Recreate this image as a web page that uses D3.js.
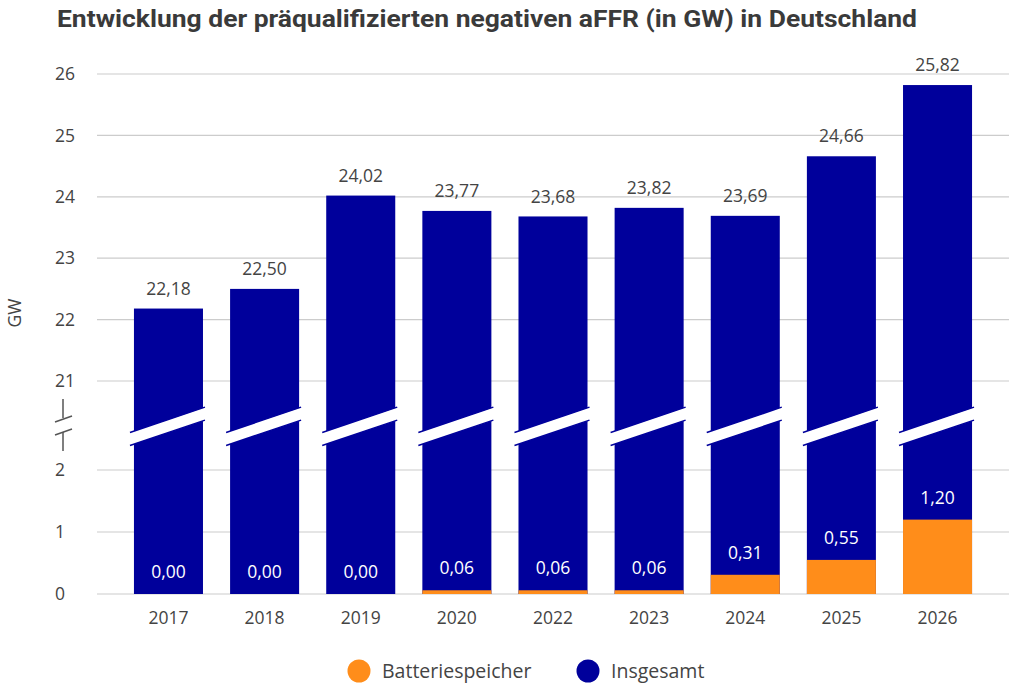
<!DOCTYPE html>
<html><head><meta charset="utf-8">
<script src="https://cdn.jsdelivr.net/npm/d3@7"></script>
<style>
html,body{margin:0;padding:0;background:#fff;}
svg{display:block;font-family:"Open Sans",sans-serif;}
</style></head>
<body>
<svg id="chart" width="1024" height="689"></svg>
<script>
const years = ["2017","2018","2019","2020","2022","2023","2024","2025","2026"];
const total = [22.18,22.50,24.02,23.77,23.68,23.82,23.69,24.66,25.82];
const battery = [0.00,0.00,0.00,0.06,0.06,0.06,0.31,0.55,1.20];
const upperTicks = [21,22,23,24,25,26];
const lowerTicks = [0,1,2];
const seriesNames = ["Batteriespeicher","Insgesamt"];
const title = "Entwicklung der präqualifizierten negativen aFFR (in GW) in Deutschland";

const NAVY = "#00009b", ORANGE = "#ff8d1a", TEXT = "#444", GRID = "#cccccc";
const svg = d3.select("#chart");
const loc = d3.formatLocale({decimal:",", thousands:".", grouping:[3], currency:["","€"]});
const fmt = loc.format(".2f");

const x = d3.scaleBand().domain(years).range([120.4, 985.6]).paddingInner(0.282).paddingOuter(0.141);
const yU = d3.scaleLinear().domain([21,26]).range([381,74]);
const yL = d3.scaleLinear().domain([0,2]).range([594,470]);
const gridX0 = 97, gridX1 = 1009;

// title
svg.append("text").attr("x",57).attr("y",27).attr("fill","#3a3a3a")
  .attr("font-family","Roboto, sans-serif").attr("font-weight",700).attr("font-size",24)
  .attr("textLength",860).attr("lengthAdjust","spacingAndGlyphs").text(title);

// gridlines
const g = svg.append("g");
g.selectAll(".gu").data(upperTicks).join("line")
  .attr("x1",gridX0).attr("x2",gridX1).attr("y1",d=>yU(d)).attr("y2",d=>yU(d))
  .attr("stroke",GRID).attr("stroke-width",1.2);
g.selectAll(".gl").data(lowerTicks).join("line")
  .attr("x1",gridX0).attr("x2",gridX1).attr("y1",d=>yL(d)).attr("y2",d=>yL(d))
  .attr("stroke",GRID).attr("stroke-width",1.2);

// tick labels
g.selectAll(".tu").data(upperTicks).join("text")
  .attr("x",55).attr("y",d=>yU(d)).attr("dy","0.35em").attr("font-size",17.5).attr("fill",TEXT).text(d=>d);
g.selectAll(".tl").data(lowerTicks).join("text")
  .attr("x",55).attr("y",d=>yL(d)).attr("dy","0.35em").attr("font-size",17.5).attr("fill",TEXT).text(d=>d);

// axis title
svg.append("text").attr("transform","translate(21,313) rotate(-90)").attr("text-anchor","middle")
  .attr("font-size",17.5).attr("fill",TEXT).text("GW");

// y-axis break symbol
const bs = svg.append("g").attr("stroke","#555").attr("stroke-width",1.5).attr("fill","none");
bs.append("line").attr("x1",63).attr("x2",63).attr("y1",399).attr("y2",418);
bs.append("line").attr("x1",55).attr("x2",72).attr("y1",422).attr("y2",416);
bs.append("line").attr("x1",55).attr("x2",72).attr("y1",435).attr("y2",429);
bs.append("line").attr("x1",63).attr("x2",63).attr("y1",432).attr("y2",451);

// bars
const base = yL(0);
const bars = svg.append("g");
years.forEach((yr,i)=>{
  const bx = x(yr), bw = x.bandwidth();
  bars.append("rect").attr("x",bx).attr("width",bw).attr("y",yU(total[i])).attr("height",base-yU(total[i])).attr("fill",NAVY);
  if (battery[i] > 0) {
    bars.append("rect").attr("x",bx).attr("width",bw).attr("y",yL(battery[i])).attr("height",base-yL(battery[i])).attr("fill",ORANGE);
  }
  // break stripe
  const xl = bx-4, xr = bx+bw+2;
  const cx = bx+bw/2, slope = -0.338;
  const upAt = xx => 419.5 + slope*(xx-cx);
  const loAt = xx => 432.5 + slope*(xx-cx);
  bars.append("polygon")
    .attr("points",[[xl,upAt(xl)],[xr,upAt(xr)],[xr,loAt(xr)],[xl,loAt(xl)]].map(p=>p.join(",")).join(" "))
    .attr("fill","#fff");
  bars.append("line").attr("x1",xl).attr("x2",xr).attr("y1",upAt(xl)).attr("y2",upAt(xr)).attr("stroke",NAVY).attr("stroke-width",1.5);
  bars.append("line").attr("x1",xl).attr("x2",xr).attr("y1",loAt(xl)).attr("y2",loAt(xr)).attr("stroke",NAVY).attr("stroke-width",1.5);
  // labels
  bars.append("text").attr("x",cx).attr("y",yU(total[i])-20).attr("dy","0.35em").attr("text-anchor","middle")
    .attr("font-size",17.5).attr("fill",TEXT).text(fmt(total[i]));
  bars.append("text").attr("x",cx).attr("y",yL(battery[i])-22).attr("dy","0.35em").attr("text-anchor","middle")
    .attr("font-size",17.5).attr("fill","#fff").text(fmt(battery[i]));
});

// x labels
svg.append("g").selectAll("text").data(years).join("text")
  .attr("x",d=>x(d)+x.bandwidth()/2).attr("y",618).attr("dy","0.35em").attr("text-anchor","middle")
  .attr("font-size",17.5).attr("fill",TEXT).text(d=>d);

// legend
const legColors = [ORANGE, NAVY];
const legX = [359, 588];
const leg = svg.append("g");
seriesNames.forEach((n,i)=>{
  leg.append("circle").attr("cx",legX[i]).attr("cy",671).attr("r",11.5).attr("fill",legColors[i]);
  leg.append("text").attr("x",legX[i]+23).attr("y",671).attr("dy","0.35em").attr("font-size",19.5).attr("fill",TEXT).text(n);
});
</script>
</body></html>
